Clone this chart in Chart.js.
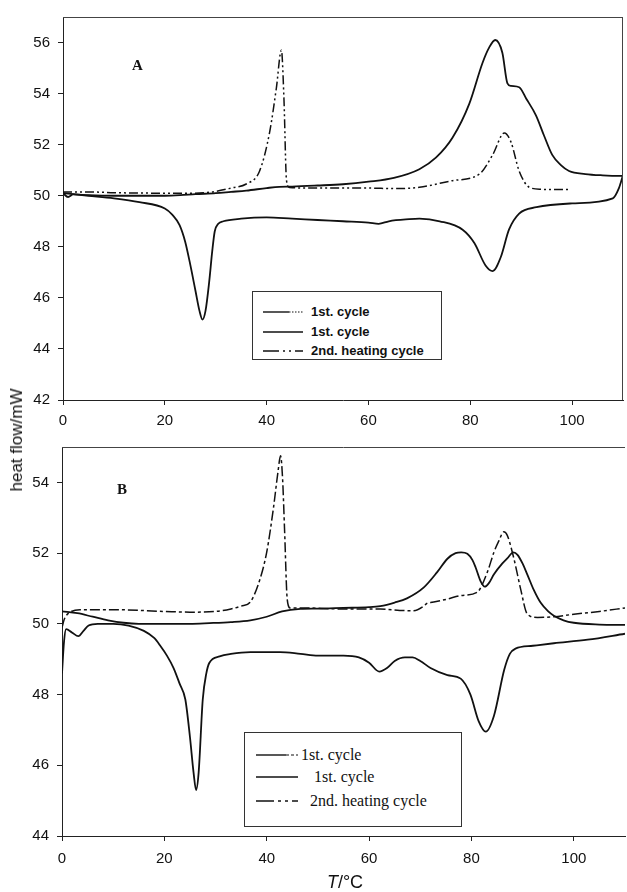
<!DOCTYPE html>
<html>
<head>
<meta charset="utf-8">
<script src="https://cdn.jsdelivr.net/npm/chart.js@4.4.1/dist/chart.umd.min.js"></script>
<style>
  html, body { margin: 0; padding: 0; background: #fff; }
  body { width: 627px; height: 892px; position: relative; overflow: hidden; }
  canvas { position: absolute; left: 0; }
  .ytitle { position: absolute; left: 17px; top: 440px; transform: translate(-50%, -50%) rotate(-90deg);
            font: 17px "Liberation Sans", Arial, sans-serif; color: #111; white-space: nowrap; }
  .xtitle { position: absolute; left: 345px; top: 882px; transform: translate(-50%, -50%);
            font: 18px "Liberation Sans", Arial, sans-serif; color: #111; white-space: nowrap; }
  .panel { position: absolute; font: bold 15px "Liberation Serif", "Times New Roman", serif; color: #111; }
  .legend { position: absolute; background: #fff; border: 1px solid #333; box-sizing: border-box; }
  .legend .row { position: absolute; left: 0; display: flex; align-items: center; white-space: nowrap; }
  .legA { font: bold 13px "Liberation Sans", Arial, sans-serif; color: #111; }
  .legB { font: 16px "Liberation Serif", "Times New Roman", serif; color: #111; }
</style>
</head>
<body>
<canvas id="chartA" width="627" height="445" style="top:0"></canvas>
<canvas id="chartB" width="627" height="462" style="top:430px"></canvas>

<div class="ytitle">heat flow/mW</div>
<div class="xtitle"><i>T</i>/°C</div>
<div class="panel" style="left:132px; top:57px;">A</div>
<div class="panel" style="left:117px; top:481px;">B</div>

<div class="legend legA" style="left:252px; top:291px; width:190px; height:69px;">
  <div class="row" style="top:12px; left:10px;">
    <svg width="40" height="6"><line x1="0" y1="3" x2="26" y2="3" stroke="#111" stroke-width="1.4"/><line x1="26" y1="3" x2="40" y2="3" stroke="#111" stroke-width="1.2" stroke-dasharray="1.5,1.5"/></svg>
    <span style="margin-left:8px">1st. cycle</span></div>
  <div class="row" style="top:32px; left:10px;">
    <svg width="40" height="6"><line x1="0" y1="3" x2="40" y2="3" stroke="#111" stroke-width="1.4"/></svg>
    <span style="margin-left:8px">1st. cycle</span></div>
  <div class="row" style="top:51px; left:10px;">
    <svg width="40" height="6"><line x1="0" y1="3" x2="40" y2="3" stroke="#111" stroke-width="1.4" stroke-dasharray="16,4,2,4,2,4"/></svg>
    <span style="margin-left:8px">2nd. heating cycle</span></div>
</div>

<div class="legend legB" style="left:244px; top:732px; width:218px; height:95px;">
  <div class="row" style="top:13px; left:11px;">
    <svg width="42" height="6"><line x1="0" y1="3" x2="30" y2="3" stroke="#111" stroke-width="1.4"/><line x1="30" y1="3" x2="42" y2="3" stroke="#111" stroke-width="1.2" stroke-dasharray="3,2"/></svg>
    <span style="margin-left:3px">1st. cycle</span></div>
  <div class="row" style="top:35px; left:11px;">
    <svg width="42" height="6"><line x1="0" y1="3" x2="42" y2="3" stroke="#111" stroke-width="1.4"/></svg>
    <span style="margin-left:16px">1st. cycle</span></div>
  <div class="row" style="top:59px; left:11px;">
    <svg width="42" height="6"><line x1="0" y1="3" x2="42" y2="3" stroke="#111" stroke-width="1.3" stroke-dasharray="18,4,3,4,3,4"/></svg>
    <span style="margin-left:12px">2nd. heating cycle</span></div>
</div>

<script>
// ---- Panel A: temperature (°C) and heat flow (mW) ----
const tempA_heat1 = [0,1,2,5,10,15,20,23,26,30,33,36,40,42.5,45,50,55,60,65,70,73.3,76.5,79.8,82.4,83.7,84.9,86.3,87.3,88,89.6,91,92.9,94.5,96.1,97.8,99.4,102.6,106,109.5,110];
const flowA_heat1 = [50.1,49.95,50.05,50.02,50.0,50.0,50.0,50.02,50.06,50.1,50.15,50.2,50.3,50.35,50.36,50.4,50.45,50.55,50.7,51.04,51.5,52.27,53.6,55.2,55.8,56.1,55.6,54.4,54.3,54.25,53.8,53.15,52.35,51.6,51.2,50.97,50.85,50.8,50.78,50.78];

const tempA_cool1 = [0,5,10,15,20,21.5,22.9,24,25,26,26.8,27.4,28,28.7,29.3,29.8,30.5,31.5,35,40,45,50,55,60,62,64,68,70,74,78.5,80.8,83,84.4,86,87.6,89.6,93,100,108,109.2,110];
const flowA_cool1 = [50.1,50.0,49.9,49.75,49.5,49.25,48.85,48.2,47.3,46.3,45.5,45.15,45.5,46.6,47.8,48.6,48.9,49.0,49.1,49.15,49.1,49.05,49.0,48.95,48.9,49.0,49.08,49.1,49.0,48.67,48.15,47.27,47.05,47.6,48.67,49.3,49.55,49.7,49.9,50.3,50.8];

const tempA_heat2 = [0,5,10,20,25,29.4,33,36,38.6,40.6,41.9,42.9,43.4,43.9,44.5,50,60,65,70,76.5,81.8,84.4,86.7,88,89.6,91.6,94,96,99.5];
const flowA_heat2 = [50.15,50.15,50.12,50.1,50.1,50.15,50.3,50.46,50.96,52.5,54.2,55.7,53.8,50.6,50.32,50.3,50.3,50.28,50.33,50.59,50.85,51.6,52.46,52.1,50.97,50.33,50.25,50.24,50.24];

// ---- Panel B ----
const tempB_heat1 = [0,3,6,9,12,15,19,25,28.8,33,36.8,40,43,46.6,50,55,60,62.2,65,67.4,70.7,73.3,75.3,76.9,78,79.2,80.2,80.8,81.8,82.6,83.4,84.4,86,87,88.2,89,90,90.9,92.2,93.5,95,96.1,98,100,105,110];
const flowB_heat1 = [50.35,50.3,50.2,50.1,50.03,50.0,50.0,50.0,50.02,50.05,50.1,50.2,50.35,50.42,50.43,50.45,50.47,50.5,50.6,50.72,51.03,51.46,51.84,52.0,52.02,51.98,51.8,51.6,51.2,51.05,51.15,51.4,51.7,51.85,52.02,51.95,51.7,51.4,50.95,50.6,50.35,50.23,50.1,50.03,49.98,49.97];

const tempB_cool1 = [0,0.4,0.8,2,3.2,4.2,5.2,7,10,13,16,18,19.2,20.5,21.8,23,24.1,25,25.7,26.2,26.7,27.5,28.2,28.8,30.8,33,36.8,42.6,46.6,50,55,58,60,62,63.5,65,67,68.5,70,72,75.3,77.9,79.8,81.4,82.8,84.4,86.4,87.5,88.6,92,96.1,102.7,110];
const flowB_cool1 = [48.6,49.5,49.85,49.75,49.65,49.8,49.95,50.0,50.0,49.95,49.8,49.6,49.38,49.1,48.75,48.3,47.86,46.8,45.8,45.3,45.8,47.86,48.6,48.9,49.08,49.15,49.2,49.2,49.15,49.1,49.1,49.05,48.9,48.65,48.75,48.95,49.05,49.05,48.95,48.75,48.55,48.45,48.0,47.25,46.95,47.4,48.7,49.15,49.3,49.38,49.45,49.55,49.72];

const tempB_heat2 = [0,0.5,1.5,3.5,10,20,25,30,33,35,36.8,38.7,40,41.3,42.2,42.7,43.1,43.5,44,44.6,47,55,62.2,66,68.7,70.7,71.3,72,75.3,78,81.1,83.1,84.4,85.4,86.3,87,88.3,89.6,90.9,92.9,96.1,100,105,110];
const flowB_heat2 = [49.9,50.15,50.32,50.4,50.4,50.35,50.33,50.35,50.42,50.5,50.62,51.27,52.03,53.26,54.3,54.75,54.1,52.6,50.7,50.45,50.45,50.42,50.42,50.38,50.37,50.5,50.58,50.6,50.7,50.8,50.89,51.46,52.03,52.36,52.6,52.5,51.84,50.99,50.28,50.18,50.2,50.27,50.35,50.45];

// Axis tick settings
const xTickStep = 20, xMin = 0, xMax = 110;
const yA = { min: 42, max: 57, step: 2 };
const yB = { min: 44, max: 55, step: 2 };

const pairs = (xs, ys) => xs.map((x, i) => ({ x, y: ys[i] }));

// Draws the extra frame edges of the plot box
const framePlugin = {
  id: 'frame',
  afterDraw(chart, args, opts) {
    const { ctx, chartArea: a } = chart;
    ctx.save();
    ctx.strokeStyle = opts.color || '#333';
    ctx.lineWidth = 1;
    ctx.beginPath();
    if (opts.top) { ctx.moveTo(a.left, a.top + 0.5); ctx.lineTo(a.right, a.top + 0.5); }
    if (opts.right) { ctx.moveTo(a.right - 0.5, a.top); ctx.lineTo(a.right - 0.5, a.bottom); }
    ctx.stroke();
    ctx.restore();
  }
};

const tickFont = { family: '"Liberation Sans", Arial, sans-serif', size: 15 };

function solid(data) {
  return { data, borderColor: '#111', borderWidth: 1.8, pointRadius: 0, fill: false,
           cubicInterpolationMode: 'monotone', showLine: true };
}
function dashDot(data, pattern) {
  return { data, borderColor: '#111', borderWidth: 1.5, pointRadius: 0, fill: false,
           cubicInterpolationMode: 'monotone', showLine: true, borderDash: pattern };
}

function makeChart(id, datasets, yCfg, geo) {
  return new Chart(document.getElementById(id), {
    type: 'scatter',
    data: { datasets },
    plugins: [framePlugin],
    options: {
      responsive: false,
      devicePixelRatio: 1,
      animation: false,
      layout: { padding: { left: 0, top: geo.top, right: geo.right, bottom: 0 } },
      plugins: { legend: { display: false }, tooltip: { enabled: false },
                 frame: { top: true, right: geo.rightFrame, color: '#444' } },
      scales: {
        x: {
          type: 'linear', min: xMin, max: xMax,
          afterFit: s => { s.height = geo.xHeight; },
          border: { display: true, color: '#222', width: 1 },
          grid: { display: true, drawOnChartArea: false, drawTicks: true, tickLength: 5, color: '#222' },
          ticks: { stepSize: xTickStep, includeBounds: false, color: '#111', font: tickFont,
                   padding: geo.xPad, maxRotation: 0 }
        },
        y: {
          type: 'linear', min: yCfg.min, max: yCfg.max,
          afterFit: s => { s.width = geo.yWidth; },
          border: { display: true, color: '#222', width: 1 },
          grid: { display: true, drawOnChartArea: false, drawTicks: true, tickLength: 5, color: '#222' },
          ticks: { stepSize: yCfg.step, includeBounds: false, color: '#111', font: tickFont, padding: 8 }
        }
      }
    }
  });
}

makeChart('chartA', [
  solid(pairs(tempA_heat1, flowA_heat1)),
  solid(pairs(tempA_cool1, flowA_cool1)),
  dashDot(pairs(tempA_heat2, flowA_heat2), [9, 3, 2, 3, 2, 3])
], yA, { top: 10, right: 4, xHeight: 45, yWidth: 63, xPad: 7, rightFrame: true });

makeChart('chartB', [
  solid(pairs(tempB_heat1, flowB_heat1)),
  solid(pairs(tempB_cool1, flowB_cool1)),
  dashDot(pairs(tempB_heat2, flowB_heat2), [10, 3, 3, 3])
], yB, { top: 16, right: 2, xHeight: 56, yWidth: 62, xPad: 9, rightFrame: false });
</script>
</body>
</html>
